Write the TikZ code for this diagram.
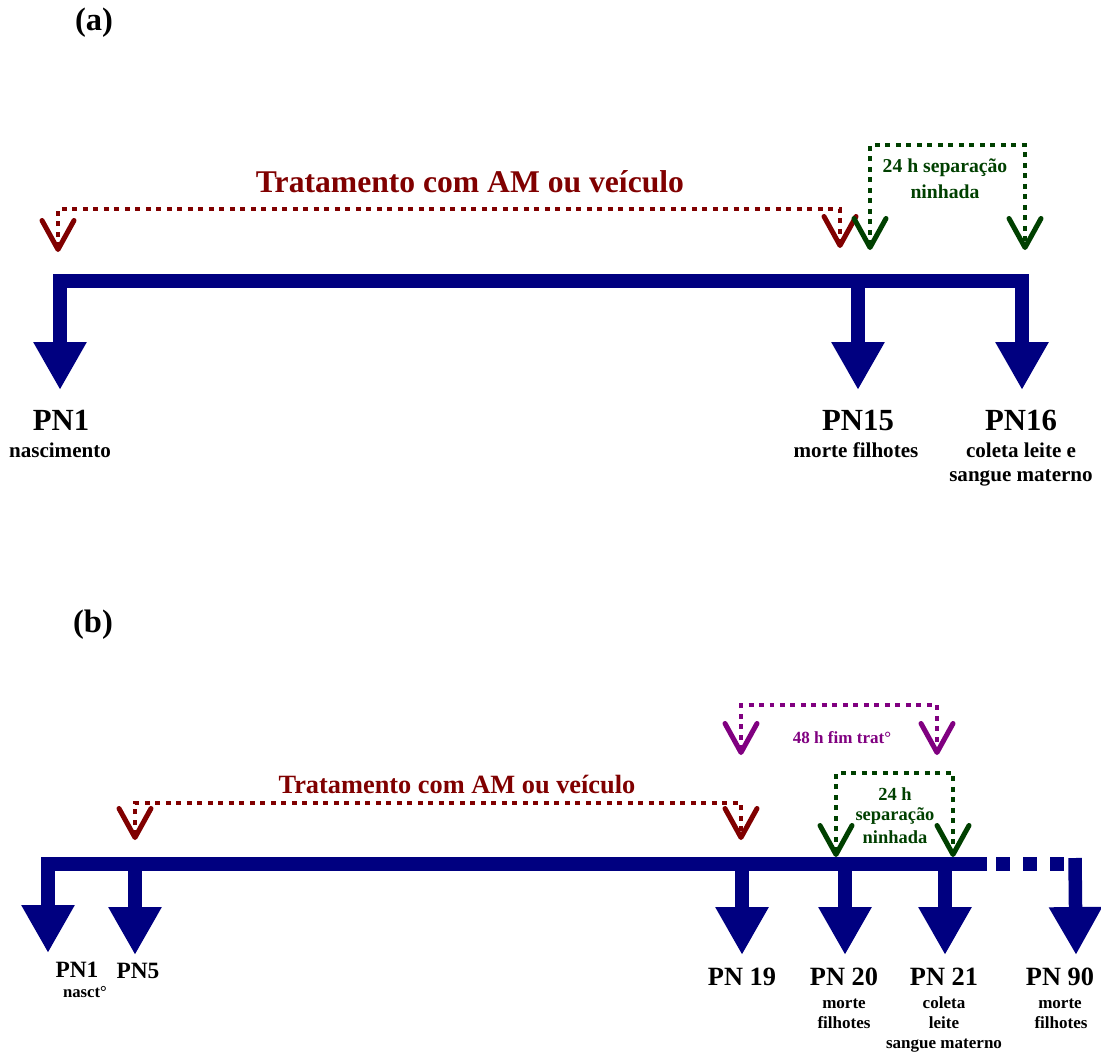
\documentclass[tikz,border=0pt]{standalone}
\usepackage{fontspec}
\setmainfont{Liberation Serif}
\usetikzlibrary{positioning,arrows.meta}
\definecolor{navyline}{RGB}{0,0,128}
\definecolor{treatred}{RGB}{128,0,0}
\definecolor{sepgreen}{RGB}{0,64,0}
\definecolor{endpurple}{RGB}{128,0,128}
\tikzstyle{timeline} = [line width=0.27cm, draw=navyline, line join=miter]
\tikzstyle{tick} = [timeline, -{Triangle[length=0.96cm, width=1cm]}]
\tikzstyle{period} = [
    line width=0.09cm,              % dotted bracket
    dash pattern=on 0.1cm off 0.11cm,
    {Straight Barb[length=0.58cm, width=0.64cm, line width=0.1cm, round]}-{Straight Barb[length=0.58cm, width=0.64cm, line width=0.1cm, round]}
]
\tikzstyle{lbl} = [inner sep=0pt, anchor=base]
\tikzstyle{tagtxt} = [lbl, font=\bfseries\fontsize{18.5}{22}\selectfont]
\tikzstyle{pntxt} = [lbl, font=\bfseries\fontsize{17.5}{21}\selectfont]
\tikzstyle{pnsmall} = [lbl, font=\bfseries\fontsize{13.3}{16}\selectfont]
\tikzstyle{pnmid} = [lbl, font=\bfseries\fontsize{15}{18}\selectfont]
\tikzstyle{subtxt} = [lbl, font=\bfseries\fontsize{12}{14}\selectfont]
\tikzstyle{subsmall} = [lbl, font=\bfseries\fontsize{9.7}{12}\selectfont]
\begin{document}
\begin{tikzpicture}[x=0.02cm, y=-0.02cm]
	\useasboundingbox (0,0) rectangle (1101,1054);

	% ---------------- (a) ----------------
	\node[tagtxt] (taga) at (94,31) {(a)};

	% Timeline points
	\coordinate (a1) at (60,281);
	\coordinate (a15) at (858,281);
	\coordinate (a16) at (1022,281);
	\coordinate (a1tip) at (60,390);
	\coordinate (a15tip) at (858,390);
	\coordinate (a16tip) at (1022,390);

	\draw[timeline, {Triangle[length=0.96cm, width=1cm]}-{Triangle[length=0.96cm, width=1cm]}]
		(a1tip) -- (a1) -- (a16) -- (a16tip);
	\draw[tick] (a15) -- (a15tip);

	% Labels
	\node[pntxt] (pn1) at (61,430) {PN1};
	\node[subtxt] (birth) at (60,457) {nascimento};
	\node[pntxt] (pn15) at (858,430) {PN15};
	\node[subtxt] (death) at (856,457) {morte filhotes};
	\node[pntxt] (pn16) at (1021,430) {PN16};
	\node[subtxt] (milk) at (1021,457) {coleta leite e};
	\node[subtxt] (blood) at (1021,481) {sangue materno};

	% Treatment bracket
	\coordinate (treatl) at (58,252);
	\coordinate (treatr) at (840,248);
	\draw[period, draw=treatred] (treatl) -- ++(0,-43) -| (treatr);
	\node[lbl, text=treatred, font=\bfseries\fontsize{18}{22}\selectfont] (treat) at (470,193) {Tratamento com AM ou veículo};

	% Separation bracket
	\coordinate (sepl) at (870,250);
	\coordinate (sepr) at (1025,250);
	\draw[period, draw=sepgreen] (sepl) -- ++(0,-105) -| (sepr);
	\node[lbl, text=sepgreen, font=\bfseries\fontsize{11.2}{14}\selectfont] (sep) at (945,173) {24 h separação};
	\node[lbl, text=sepgreen, font=\bfseries\fontsize{11.2}{14}\selectfont] (litter) at (945,198) {ninhada};

	% ---------------- (b) ----------------
	\node[tagtxt] (tagb) at (93,632) {(b)};

	% Timeline points
	\coordinate (b1) at (48,864);
	\coordinate (b5) at (135,864);
	\coordinate (b19) at (742,864);
	\coordinate (b20) at (845,864);
	\coordinate (b21) at (945,864);
	\coordinate (bend) at (987,864);
	\coordinate (b90) at (1075,864);
	\coordinate (b90top) at (1075,858);
	\coordinate (b1tip) at (48,953);
	\coordinate (b5tip) at (135,955);
	\coordinate (b19tip) at (742,955);
	\coordinate (b20tip) at (845,955);
	\coordinate (b21tip) at (945,955);
	\coordinate (b90tip) at (1076,955);

	\draw[tick] (bend) -- (b1) -- (b1tip);
	\draw[tick] (b5) -- (b5tip);
	\draw[tick] (b19) -- (b19tip);
	\draw[tick] (b20) -- (b20tip);
	\draw[tick] (b21) -- (b21tip);
	\draw[timeline, dash pattern=on 0.28cm off 0.26cm, dash phase=0.36cm] (bend) -- (b90);
	\draw[tick] (b90top) -- (b90tip);

	% Labels
	\node[pnsmall] (pn1b) at (77,977) {PN1};
	\node[subsmall, font=\bfseries\fontsize{9.5}{12}\selectfont] (birthb) at (85,997) {nasct°};
	\node[pnsmall] (pn5b) at (138,978) {PN5};
	\node[pnmid] (pn19b) at (742,985) {PN 19};
	\node[pnmid] (pn20b) at (844,985) {PN 20};
	\node[subsmall] (death20) at (844,1008) {morte};
	\node[subsmall] (pups20) at (844,1028) {filhotes};
	\node[pnmid] (pn21b) at (944,985) {PN 21};
	\node[subsmall] (coll21) at (944,1008) {coleta};
	\node[subsmall] (milk21) at (944,1028) {leite};
	\node[subsmall] (blood21) at (944,1048) {sangue materno};
	\node[pnmid] (pn90b) at (1060,985) {PN 90};
	\node[subsmall] (death90) at (1060,1008) {morte};
	\node[subsmall] (pups90) at (1061,1028) {filhotes};

	% Treatment bracket
	\coordinate (treatlb) at (135,840);
	\coordinate (treatrb) at (741,840);
	\draw[period, draw=treatred] (treatlb) -- ++(0,-37) -| (treatrb);
	\node[lbl, text=treatred, font=\bfseries\fontsize{15}{18}\selectfont] (treatb) at (457,793) {Tratamento com AM ou veículo};

	% End of treatment bracket
	\coordinate (endl) at (741,755);
	\coordinate (endr) at (937,755);
	\draw[period, draw=endpurple] (endl) -- ++(0,-50) -| (endr);
	\node[subsmall, text=endpurple] (endtxt) at (842,743) {48 h fim trat°};

	% Separation bracket
	\coordinate (sepbl) at (836,857);
	\coordinate (sepbr) at (953,857);
	\draw[period, draw=sepgreen] (sepbl) -- ++(0,-84) -| (sepbr);
	\node[lbl, text=sepgreen, font=\bfseries\fontsize{10.5}{13}\selectfont] (sepb) at (895,800) {24 h};
	\node[lbl, text=sepgreen, font=\bfseries\fontsize{10.5}{13}\selectfont] (sepb2) at (895,820) {separação};
	\node[lbl, text=sepgreen, font=\bfseries\fontsize{10.5}{13}\selectfont] (litterb) at (895,843) {ninhada};
\end{tikzpicture}
\end{document}
